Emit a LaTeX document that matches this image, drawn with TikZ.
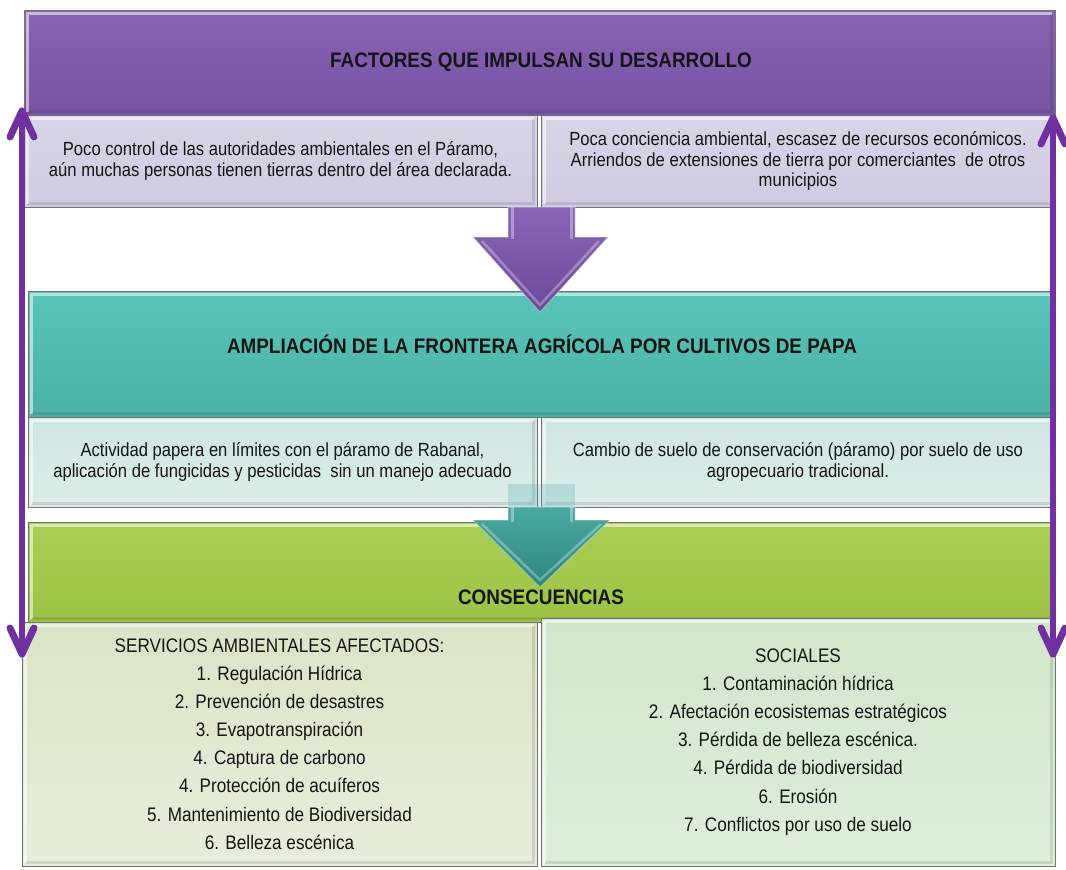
\documentclass[tikz,border=0pt]{standalone}
\usepackage{fontspec}
\setmainfont{Liberation Sans}[FakeStretch=0.875, BoldFeatures={FakeStretch=0.9}]
\usetikzlibrary{arrows.meta}
\definecolor{purH1}{HTML}{8864B4}
\definecolor{purH2}{HTML}{7852A6}
\definecolor{purS1}{HTML}{D9D5E8}
\definecolor{purS2}{HTML}{CFCAE0}
\definecolor{tealH1}{HTML}{58C5B8}
\definecolor{tealH2}{HTML}{4BB1A5}
\definecolor{tealS1}{HTML}{CFE5E3}
\definecolor{tealS2}{HTML}{DAEDEB}
\definecolor{grnH1}{HTML}{AACE54}
\definecolor{grnH2}{HTML}{9BC245}
\definecolor{grnL1}{HTML}{DAE4C6}
\definecolor{grnL2}{HTML}{E6EEDB}
\definecolor{grnR1}{HTML}{D2E6CB}
\definecolor{grnR2}{HTML}{DEEEDA}
\definecolor{arrPur}{HTML}{7030A0}
\definecolor{chevP1}{HTML}{8A66B6}
\definecolor{chevP2}{HTML}{6C489C}
\definecolor{chevT1}{HTML}{4AAAA1}
\definecolor{chevT2}{HTML}{30857E}
\definecolor{txt}{HTML}{151515}
\newcommand{\bodyfont}{\fontsize{19}{20.5}\selectfont}
\newcommand{\listfont}{\fontsize{19.6}{28.1}\selectfont}
\newcommand{\hdrfont}{\fontsize{21}{22}\selectfont\bfseries}
\tikzset{
  bevel/.style={draw=black!55, line width=0.8pt, inner sep=0pt, text=txt, align=center,
    path picture={
      \draw[white,opacity=0.55,line width=3pt]
        ([shift={(3.5pt,3.5pt)}]path picture bounding box.south west) |-
        ([shift={(-3.5pt,-3.5pt)}]path picture bounding box.north east);
      \draw[black,opacity=0.10,line width=3pt]
        ([shift={(3.5pt,3.5pt)}]path picture bounding box.south west) -|
        ([shift={(-3.5pt,-3.5pt)}]path picture bounding box.north east);
    }},
  hdrtext/.style={text=txt, inner sep=0pt, font=\hdrfont},
  chev/.style={draw=white, draw opacity=0.35, line width=1pt},
  vline/.style={arrPur, line width=6pt},
  barb/.style={arrPur, line width=7pt, line cap=round, line join=round},
}
\begin{document}
\begin{tikzpicture}[x=1pt,y=-1pt]
\useasboundingbox (0,0) rectangle (1066,870);
\fill[white] (0,0) rectangle (1066,870);

% ---------- purple block
\node[bevel, top color=purH1, bottom color=purH2, minimum width=1031pt, minimum height=105pt] (h1) at (539.5,62.5) {};
\node[hdrtext] (h1t) at (541,62) {FACTORES QUE IMPULSAN SU DESARROLLO};
\node[bevel, top color=purS1, bottom color=purS2, minimum width=513pt, minimum height=92pt, font=\bodyfont] (s1l) at (280.5,161)
  {Poco control de las autoridades ambientales en el Páramo,\\aún muchas personas tienen tierras dentro del área declarada.};
\node[bevel, top color=purS1, bottom color=purS2, minimum width=514pt, minimum height=92pt, font=\bodyfont] (s1r) at (798,161)
  {Poca conciencia ambiental, escasez de recursos económicos.\\Arriendos de extensiones de tierra por comerciantes\ \ de otros\\municipios};

% ---------- teal block
\node[bevel, top color=tealH1, bottom color=tealH2, minimum width=1027pt, minimum height=126pt] (h2) at (541.5,354) {};
\node[hdrtext] (h2t) at (542,344) {AMPLIACIÓN DE LA FRONTERA AGRÍCOLA POR CULTIVOS DE PAPA};

% purple chevron
\shade[top color=chevP1, bottom color=chevP2, chev]
  (508,207) -- (575,207) -- (575,237) -- (608,237) -- (540,312) -- (473,237) -- (508,237) -- cycle;
\draw[white, opacity=0.35, line width=3pt] (512,207) -- (512,239) (571,207) -- (571,239);
\draw[white, opacity=0.30, line width=2.5pt] (482,241) -- (540,305) -- (599,241);

\node[bevel, top color=tealS1, bottom color=tealS2, minimum width=509pt, minimum height=90pt, font=\bodyfont] (s2l) at (282.5,462)
  {Actividad papera en límites con el páramo de Rabanal,\\aplicación de fungicidas y pesticidas\ \ sin un manejo adecuado};
\node[bevel, top color=tealS1, bottom color=tealS2, minimum width=514pt, minimum height=90pt, font=\bodyfont] (s2r) at (798,462)
  {Cambio de suelo de conservación (páramo) por suelo de uso\\agropecuario tradicional.};
\fill[chevT1, opacity=0.25] (508,484) rectangle (575,507);

% ---------- green block
\node[bevel, top color=grnH1, bottom color=grnH2, minimum width=1027pt, minimum height=100pt] (h3) at (541.5,572) {};

% teal chevron
\shade[top color=chevT1, bottom color=chevT2, chev]
  (508,507) -- (575,507) -- (575,520) -- (610,520) -- (540,587) -- (473,520) -- (508,520) -- cycle;
\draw[white, opacity=0.35, line width=3pt] (512,507) -- (512,522) (571,507) -- (571,522);
\draw[white, opacity=0.30, line width=2.5pt] (482,524) -- (540,580) -- (601,524);
\node[hdrtext] (h3t) at (541,597) {CONSECUENCIAS};

\node[bevel, top color=grnL1, bottom color=grnL2, minimum width=515pt, minimum height=244pt, font=\listfont] (s3l) at (279.5,744)
  {SERVICIOS AMBIENTALES AFECTADOS:\\1. Regulación Hídrica\\2. Prevención de desastres\\3. Evapotranspiración\\4. Captura de carbono\\4. Protección de acuíferos\\5. Mantenimiento de Biodiversidad\\6. Belleza escénica};
\node[bevel, top color=grnR1, bottom color=grnR2, minimum width=514pt, minimum height=248pt, font=\listfont] (s3r) at (798,742)
  {SOCIALES\\1. Contaminación hídrica\\2. Afectación ecosistemas estratégicos\\3. Pérdida de belleza escénica.\\4. Pérdida de biodiversidad\\6. Erosión\\7. Conflictos por uso de suelo};

% ---------- long double arrows
\coordinate (la1) at (22,111);
\coordinate (la2) at (22,654);
\coordinate (ra1) at (1053,118);
\coordinate (ra2) at (1053,654);
\draw[vline] (la1) -- (la2);
\draw[vline] (ra1) -- (ra2);
\draw[barb] ([shift={(-12pt,-26pt)}]la1) -- (la1) -- ([shift={(12pt,-26pt)}]la1);
\draw[barb] ([shift={(-12pt,26pt)}]la2) -- (la2) -- ([shift={(12pt,26pt)}]la2);
\draw[barb] ([shift={(-12pt,-26pt)}]ra1) -- (ra1) -- ([shift={(12pt,-26pt)}]ra1);
\draw[barb] ([shift={(-12pt,26pt)}]ra2) -- (ra2) -- ([shift={(12pt,26pt)}]ra2);
\end{tikzpicture}
\end{document}
